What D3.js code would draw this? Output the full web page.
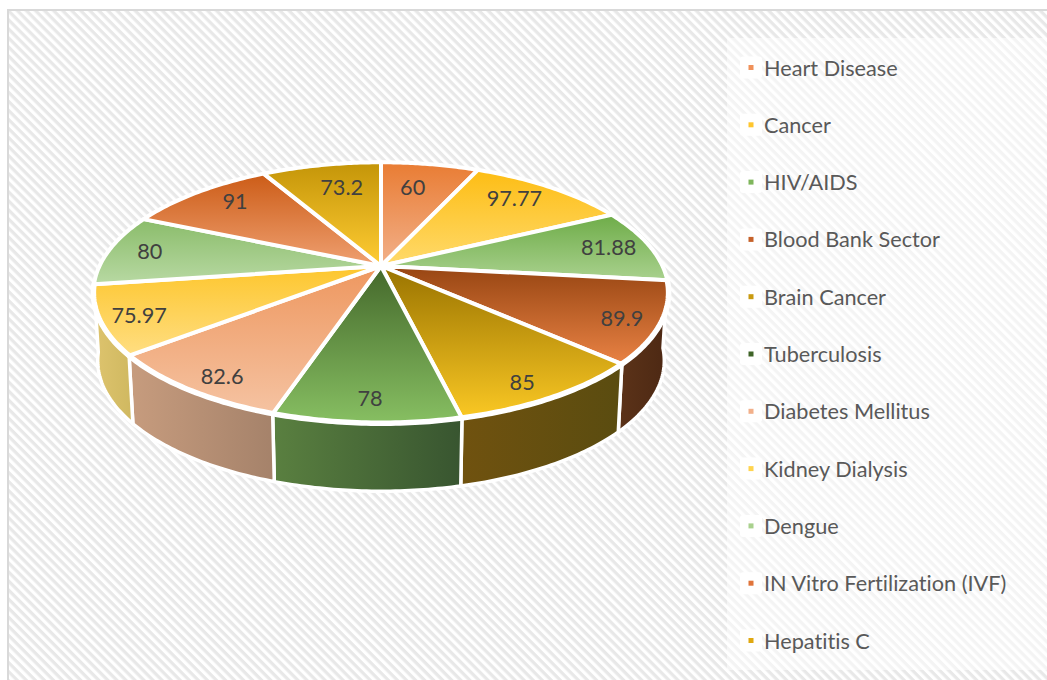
<!DOCTYPE html>
<html><head><meta charset="utf-8">
<script src="https://cdn.jsdelivr.net/npm/d3@7/dist/d3.min.js"></script>
<style>html,body{margin:0;padding:0;background:#fff}svg{display:block}text{font-variant-ligatures:none}</style>
</head><body><div id="chart"></div>
<script>
const categories = ["Heart Disease","Cancer","HIV/AIDS","Blood Bank Sector","Brain Cancer","Tuberculosis","Diabetes Mellitus","Kidney Dialysis","Dengue","IN Vitro Fertilization (IVF)","Hepatitis C"];
const values = [60,97.77,81.88,89.9,85,78,82.6,75.97,80,91,73.2];
const topDark  = ["#E97C33","#FDBD14","#6EAC48","#974512","#997300","#44682B","#EE975F","#FDC62D","#8ABC6A","#CC5C17","#C49508"];
const topLight = ["#F2B08A","#FFDA6B","#A9D18E","#E98244","#FAC824","#87BF62","#F5C3A2","#FFDE82","#B8D9A3","#EFA071","#FFCC33"];
const wallLeft  = ["#8F5A38","#9A7A20","#5F8545","#5C3319","#70520F","#5A8040","#C79C7E","#DEC46E","#A5C48F","#B5703F","#B08A20"];
const wallRight = ["#7A4A2C","#85681A","#4F7038","#4C2813","#5A4C10","#385530","#A5826A","#CFB860","#95B480","#A06034","#9A7A1A"];
const legendMarker = ["#F0915A","#FFC62E","#7FB65C","#C6622A","#C99A10","#3F6428","#F2B08A","#FFD44F","#A9D18E","#E0743A","#E0A810"];

const W = 1047, H = 680;
const svg = d3.select("#chart").append("svg").attr("width", W).attr("height", H);
const defs = svg.append("defs");

// background
const period = 6.4;
const pat = defs.append("pattern").attr("id","hatch").attr("width",period).attr("height",period)
  .attr("patternUnits","userSpaceOnUse").attr("patternTransform","rotate(45)");
pat.append("rect").attr("width",period).attr("height",period).attr("fill","#fff");
pat.append("rect").attr("width",period).attr("height",period/2).attr("fill","#e8e8e8");
svg.append("rect").attr("x",8).attr("y",10).attr("width",W+10).attr("height",H+10)
  .attr("fill","url(#hatch)").attr("stroke","#d9d9d9").attr("stroke-width",2);
svg.append("rect").attr("x",727).attr("y",38).attr("width",320).attr("height",632)
  .attr("fill","#fff").attr("fill-opacity",0.5);

// perspective disc
const cx = 381, apexY = 266, k = 0.205, rx = 281.5, ry = 125;
const wallDepth = 68, wallScale = 0.985;
const project = (angle, r = 1) => {
  const u = r * Math.sin(angle), v = -r * Math.cos(angle), d = 1 - k * v;
  return [cx + rx * u / d, apexY + ry * v / d];
};
const pieGen = d3.pie().sort(null).value(d => d).startAngle(0).endAngle(2 * Math.PI);
const arcs = pieGen(values);
const line = d3.line();
const rim = a => d3.range(41).map(i => project(a.startAngle + (a.endAngle - a.startAngle) * i / 40));
const lower = p => [cx + (p[0] - cx) * wallScale, p[1] + wallDepth];
const midAngle = a => (a.startAngle + a.endAngle) / 2;

arcs.forEach((a, i) => {
  const t = defs.append("linearGradient").attr("id","top"+i).attr("x1",0).attr("y1",0).attr("x2",0).attr("y2",1);
  t.append("stop").attr("offset",0).attr("stop-color",topDark[i]);
  t.append("stop").attr("offset",1).attr("stop-color",topLight[i]);
  const w = defs.append("linearGradient").attr("id","wall"+i).attr("x1",0).attr("y1",0).attr("x2",1).attr("y2",0);
  w.append("stop").attr("offset",0).attr("stop-color",wallLeft[i]);
  w.append("stop").attr("offset",1).attr("stop-color",wallRight[i]);
});

// walls: only the slices facing the viewer
svg.append("g").selectAll("path").data(arcs.filter(a => Math.cos(midAngle(a)) < 0)).join("path")
  .attr("d", a => { const r = rim(a); return line(r.concat(r.slice().reverse().map(lower))) + "Z"; })
  .attr("fill", a => `url(#wall${a.index})`)
  .attr("stroke","#fff").attr("stroke-width",3.5).attr("stroke-linejoin","round");

// top faces
svg.append("g").selectAll("path").data(arcs).join("path")
  .attr("d", a => line([[cx, apexY]].concat(rim(a))) + "Z")
  .attr("fill", a => `url(#top${a.index})`)
  .attr("stroke","#fff").attr("stroke-width",4).attr("stroke-linejoin","round");

// white band along the front rim
svg.append("g").selectAll("path").data(arcs.filter(a => Math.cos(midAngle(a)) < 0)).join("path")
  .attr("d", a => line(rim(a)))
  .attr("fill","none").attr("stroke","#fff").attr("stroke-width",5.5).attr("stroke-linecap","round");

// data labels
const insetX = 40, insetY = 25;
svg.append("g").selectAll("text").data(arcs).join("text")
  .attr("transform", a => {
    const p = project(midAngle(a));
    const dx = p[0] - cx, dy = p[1] - apexY, len = Math.hypot(dx, dy);
    return `translate(${p[0] - dx / len * insetX},${p[1] - dy / len * insetY})`;
  })
  .attr("text-anchor","middle").attr("dominant-baseline","central")
  .attr("font-family","Lato, 'Open Sans', sans-serif").attr("font-size",21.7).attr("fill","#404040")
  .text(a => a.data);

// legend
const legendY = d3.scalePoint().domain(categories).range([67.5, 640.5]);
const leg = svg.append("g").selectAll("g").data(categories).join("g")
  .attr("transform", d => `translate(0,${legendY(d)})`);
leg.append("rect").attr("x",740).attr("y",-11).attr("width",22).attr("height",22).attr("rx",3).attr("fill","#fff");
leg.append("rect").attr("x",748.5).attr("y",-2.5).attr("width",5).attr("height",5).attr("fill",(d,i)=>legendMarker[i]);
leg.append("text").attr("x",764).attr("dominant-baseline","central")
  .attr("font-family","Lato, 'Open Sans', sans-serif").attr("font-size",21.7).attr("fill","#595959").text(d=>d);
</script></body></html>
